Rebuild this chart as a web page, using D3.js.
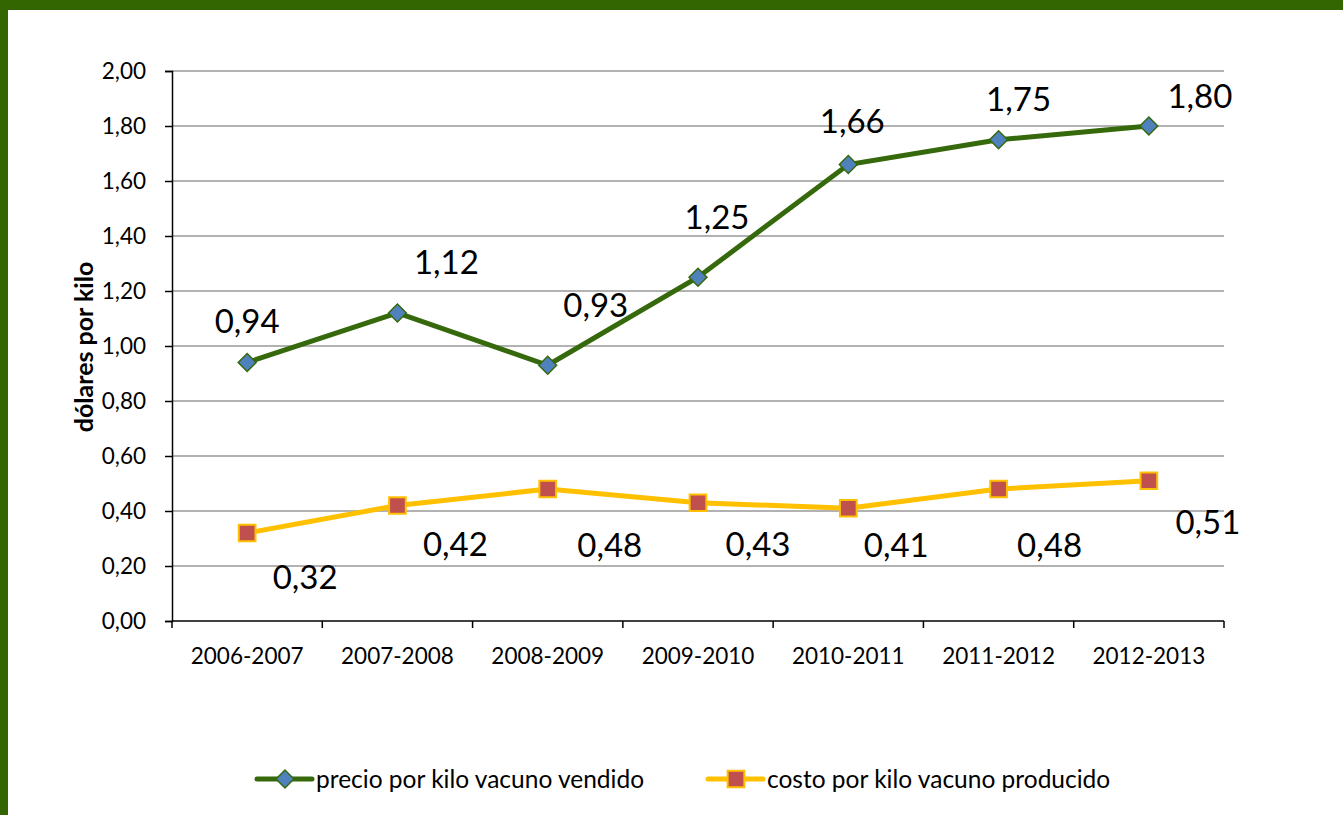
<!DOCTYPE html>
<html>
  <head>
    <style>
      body { margin: 0; background: #fff; }
      text { font-family: Lato, "Open Sans", sans-serif; fill: #000; }
    </style>
  </head>
  <body>
    <script src="https://cdn.jsdelivr.net/npm/d3@7"></script>
    <script type="text/javascript">

      const seasons = ['2006-2007', '2007-2008', '2008-2009', '2009-2010', '2010-2011', '2011-2012', '2012-2013'];
      const precio = [0.94, 1.12, 0.93, 1.25, 1.66, 1.75, 1.80];
      const costo = [0.32, 0.42, 0.48, 0.43, 0.41, 0.48, 0.51];
      const yTicks = [0, 0.2, 0.4, 0.6, 0.8, 1.0, 1.2, 1.4, 1.6, 1.8, 2.0];
      const legendNames = ['precio por kilo vacuno vendido', 'costo por kilo vacuno producido'];

      // label offsets (pixels from the point), as Excel placed them
      const precioLabelOffset = [[0, -41], [49, -51], [48, -60], [19, -60], [4, -43], [20, -40], [51, -30]];
      const costoLabelOffset = [[58, 44], [58, 39], [62, 56], [60, 42], [48, 37], [51, 56], [59, 42]];

      const width = 1343;
      const height = 815;
      const plotLeft = 172, plotRight = 1224, plotTop = 71, plotBottom = 621;

      const fmt = (v) => v.toFixed(2).replace('.', ',');

      const svg = d3.select('body')
        .append('svg')
        .attr('width', width)
        .attr('height', height);

      // green frame
      svg.append('rect').attr('x', 0).attr('y', 0).attr('width', width).attr('height', 10).attr('fill', '#336600');
      svg.append('rect').attr('x', 0).attr('y', 0).attr('width', 8).attr('height', height).attr('fill', '#336600');

      const x = d3.scaleBand().domain(seasons).range([plotLeft, plotRight]);
      const y = d3.scaleLinear().domain([0, 2]).range([plotBottom, plotTop]);
      const cx = (d) => x(d) + x.bandwidth() / 2;

      // gridlines
      svg.append('g')
        .selectAll('line')
        .data(yTicks.slice(1))
        .enter()
        .append('line')
        .attr('x1', plotLeft).attr('x2', plotRight)
        .attr('y1', (d) => y(d)).attr('y2', (d) => y(d))
        .attr('stroke', '#999')
        .attr('stroke-width', 1.5);

      const yAxis = svg.append('g')
        .attr('transform', `translate(${plotLeft}, 0)`)
        .call(d3.axisLeft(y).tickValues(yTicks).tickFormat(fmt).tickSize(7).tickPadding(19));
      yAxis.selectAll('text').style('font-size', '22.5px');
      yAxis.selectAll('line, path').attr('stroke', '#000').attr('stroke-width', 1.5);

      const xAxis = svg.append('g')
        .attr('transform', `translate(0, ${plotBottom})`)
        .call(d3.axisBottom(x).tickSize(0).tickPadding(27));
      xAxis.selectAll('text').style('font-size', '22.5px');
      xAxis.select('.domain').attr('stroke', '#000').attr('stroke-width', 1.5).attr('d', `M${plotLeft},0H${plotRight}`);
      xAxis.selectAll('.tick line').remove();
      // ticks on band boundaries
      xAxis.selectAll('.bound')
        .data(seasons.concat(['end']))
        .enter()
        .append('line')
        .attr('x1', (d, i) => plotLeft + i * x.bandwidth())
        .attr('x2', (d, i) => plotLeft + i * x.bandwidth())
        .attr('y1', 0).attr('y2', 7)
        .attr('stroke', '#000').attr('stroke-width', 1.5);

      svg.append('text')
        .attr('transform', `translate(93, 347) rotate(-90)`)
        .attr('text-anchor', 'middle')
        .style('font-size', '25px')
        .style('font-weight', 'bold')
        .text('dólares por kilo');

      const line = d3.line().x((d, i) => cx(seasons[i])).y((d) => y(d));

      svg.append('path').attr('d', line(costo))
        .attr('fill', 'none').attr('stroke', '#ffc000').attr('stroke-width', 5);
      svg.append('path').attr('d', line(precio))
        .attr('fill', 'none').attr('stroke', '#36690c').attr('stroke-width', 5);

      const diamond = d3.symbol().type(d3.symbolSquare).size(160);
      const square = d3.symbol().type(d3.symbolSquare).size(280);

      svg.selectAll('.costo')
        .data(costo)
        .enter()
        .append('path')
        .attr('class', 'costo')
        .attr('d', square)
        .attr('transform', (d, i) => `translate(${cx(seasons[i])}, ${y(d)})`)
        .attr('fill', '#c0504d').attr('stroke', '#ffc000').attr('stroke-width', 2);

      svg.selectAll('.precio')
        .data(precio)
        .enter()
        .append('path')
        .attr('class', 'precio')
        .attr('d', diamond)
        .attr('transform', (d, i) => `translate(${cx(seasons[i])}, ${y(d)}) rotate(45)`)
        .attr('fill', '#4f81bd').attr('stroke', '#36690c').attr('stroke-width', 1.5);

      svg.selectAll('.lblP')
        .data(precio)
        .enter()
        .append('text')
        .attr('class', 'lblP')
        .attr('x', (d, i) => cx(seasons[i]) + precioLabelOffset[i][0])
        .attr('y', (d, i) => y(d) + precioLabelOffset[i][1])
        .attr('text-anchor', 'middle')
        .attr('dy', '0.35em')
        .style('font-size', '33px')
        .text(fmt);

      svg.selectAll('.lblC')
        .data(costo)
        .enter()
        .append('text')
        .attr('class', 'lblC')
        .attr('x', (d, i) => cx(seasons[i]) + costoLabelOffset[i][0])
        .attr('y', (d, i) => y(d) + costoLabelOffset[i][1])
        .attr('text-anchor', 'middle')
        .attr('dy', '0.35em')
        .style('font-size', '33px')
        .text(fmt);

      // legend
      const legend = svg.append('g').attr('transform', 'translate(0, 779)');
      const legendX = [257, 708];
      legend.append('line').attr('x1', legendX[0]).attr('x2', legendX[0] + 55).attr('y1', 0).attr('y2', 0)
        .attr('stroke', '#36690c').attr('stroke-width', 5).attr('stroke-linecap', 'round');
      legend.append('path').attr('d', diamond)
        .attr('transform', `translate(${legendX[0] + 28}, 0) rotate(45)`)
        .attr('fill', '#4f81bd').attr('stroke', '#36690c').attr('stroke-width', 1.5);
      legend.append('line').attr('x1', legendX[1]).attr('x2', legendX[1] + 55).attr('y1', 0).attr('y2', 0)
        .attr('stroke', '#ffc000').attr('stroke-width', 5).attr('stroke-linecap', 'round');
      legend.append('path').attr('d', square)
        .attr('transform', `translate(${legendX[1] + 28}, 0)`)
        .attr('fill', '#c0504d').attr('stroke', '#ffc000').attr('stroke-width', 2);
      legend.selectAll('.legtext')
        .data(legendNames)
        .enter()
        .append('text')
        .attr('x', (d, i) => legendX[i] + 59)
        .attr('y', 0)
        .attr('dy', '0.35em')
        .style('font-size', '24.5px')
        .text((d) => d);

    </script>
  </body>
</html>
